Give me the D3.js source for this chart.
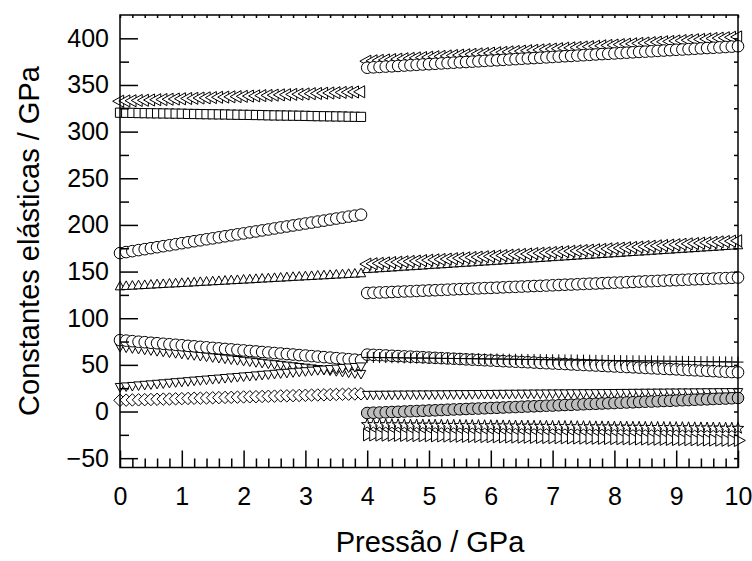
<!DOCTYPE html>
<html><head><meta charset="utf-8">
<script src="https://cdn.jsdelivr.net/npm/d3@7"></script>
<style>body{margin:0;background:#fff}svg{display:block}text{font-family:"Liberation Sans",Arial,sans-serif;fill:#000}</style>
</head><body><svg id="c" width="752" height="561"></svg>
<script>
// pressures (GPa)
const pressure1 = [0.0,0.1,0.2,0.3,0.4,0.5,0.6,0.7,0.8,0.9,1.0,1.1,1.2,1.3,1.4,1.5,1.6,1.7,1.8,1.9,2.0,2.1,2.2,2.3,2.4,2.5,2.6,2.7,2.8,2.9,3.0,3.1,3.2,3.3,3.4,3.5,3.6,3.7,3.8,3.9];
const pressure2 = [4.0,4.1,4.2,4.3,4.4,4.5,4.6,4.7,4.8,4.9,5.0,5.1,5.2,5.3,5.4,5.5,5.6,5.7,5.8,5.9,6.0,6.1,6.2,6.3,6.4,6.5,6.6,6.7,6.8,6.9,7.0,7.1,7.2,7.3,7.4,7.5,7.6,7.7,7.8,7.9,8.0,8.1,8.2,8.3,8.4,8.5,8.6,8.7,8.8,8.9,9.0,9.1,9.2,9.3,9.4,9.5,9.6,9.7,9.8,9.9,10.0];

// phase 1 series
const p1Left = [332.6,332.9,333.1,333.4,333.6,333.9,334.2,334.4,334.7,334.9,335.2,335.5,335.7,336.0,336.2,336.5,336.8,337.0,337.3,337.5,337.8,338.1,338.3,338.6,338.8,339.1,339.4,339.6,339.9,340.1,340.4,340.7,340.9,341.2,341.4,341.7,342.0,342.2,342.5,342.7];
const p1Square = [320.3,320.2,320.1,319.9,319.8,319.7,319.6,319.5,319.4,319.3,319.2,319.0,318.9,318.8,318.7,318.6,318.5,318.4,318.2,318.1,318.0,317.9,317.8,317.7,317.5,317.4,317.3,317.2,317.1,317.0,316.9,316.7,316.6,316.5,316.4,316.3,316.2,316.0,315.9,315.8];
const p1Circle = [169.8,170.9,171.9,173.0,174.0,175.1,176.1,177.2,178.2,179.3,180.4,181.4,182.5,183.5,184.6,185.6,186.7,187.8,188.8,189.9,190.9,192.0,193.0,194.1,195.1,196.2,197.3,198.3,199.4,200.4,201.5,202.5,203.6,204.6,205.7,206.8,207.8,208.9,209.9,211.0];
const p1Up = [133.5,133.9,134.2,134.6,134.9,135.3,135.7,136.0,136.4,136.7,137.1,137.4,137.8,138.2,138.5,138.9,139.2,139.6,140.0,140.3,140.7,141.0,141.4,141.8,142.1,142.5,142.8,143.2,143.6,143.9,144.3,144.6,145.0,145.3,145.7,146.1,146.4,146.8,147.1,147.5];
const p1CircleLow = [76.5,76.0,75.4,74.8,74.3,73.7,73.2,72.6,72.1,71.5,71.0,70.4,69.9,69.3,68.8,68.2,67.7,67.1,66.6,66.0,65.5,64.9,64.4,63.8,63.3,62.7,62.2,61.6,61.1,60.5,60.0,59.4,58.9,58.3,57.8,57.2,56.7,56.1,55.6,55.0];
const p1DownA = [70.0,69.3,68.5,67.8,67.0,66.3,65.5,64.8,64.0,63.3,62.6,61.8,61.1,60.3,59.6,58.8,58.1,57.4,56.6,55.9,55.1,54.4,53.6,52.9,52.1,51.4,50.7,49.9,49.2,48.4,47.7,46.9,46.2,45.4,44.7,44.0,43.2,42.5,41.7,41.0];
const p1DownB = [27.0,27.6,28.1,28.7,29.3,29.8,30.4,30.9,31.5,32.1,32.6,33.2,33.8,34.3,34.9,35.5,36.0,36.6,37.2,37.7,38.3,38.8,39.4,40.0,40.5,41.1,41.7,42.2,42.8,43.4,43.9,44.5,45.1,45.6,46.2,46.7,47.3,47.9,48.4,49.0];
const p1Diamond = [12.0,12.2,12.4,12.5,12.7,12.9,13.1,13.3,13.4,13.6,13.8,14.0,14.2,14.3,14.5,14.7,14.9,15.1,15.2,15.4,15.6,15.8,15.9,16.1,16.3,16.5,16.7,16.8,17.0,17.2,17.4,17.6,17.7,17.9,18.1,18.3,18.5,18.6,18.8,19.0];

// phase 2 series
const p2Left = [375.5,375.9,376.4,376.8,377.2,377.7,378.1,378.5,379.0,379.4,379.8,380.3,380.7,381.1,381.6,382.0,382.4,382.9,383.3,383.7,384.2,384.6,385.0,385.5,385.9,386.3,386.8,387.2,387.6,388.1,388.5,388.9,389.4,389.8,390.2,390.7,391.1,391.5,392.0,392.4,392.8,393.3,393.7,394.1,394.6,395.0,395.4,395.9,396.3,396.7,397.2,397.6,398.0,398.5,398.9,399.3,399.8,400.2,400.6,401.1,401.5];
const p2Circle = [368.5,368.9,369.3,369.7,370.0,370.4,370.8,371.2,371.6,372.0,372.3,372.7,373.1,373.5,373.9,374.3,374.6,375.0,375.4,375.8,376.2,376.5,376.9,377.3,377.7,378.1,378.5,378.8,379.2,379.6,380.0,380.4,380.8,381.1,381.5,381.9,382.3,382.7,383.1,383.4,383.8,384.2,384.6,385.0,385.4,385.7,386.1,386.5,386.9,387.3,387.7,388.0,388.4,388.8,389.2,389.6,389.9,390.3,390.7,391.1,391.5];
const p2LeftMid = [158.0,158.4,158.8,159.3,159.7,160.1,160.5,160.9,161.3,161.8,162.2,162.6,163.0,163.4,163.8,164.3,164.7,165.1,165.5,165.9,166.3,166.8,167.2,167.6,168.0,168.4,168.8,169.3,169.7,170.1,170.5,170.9,171.3,171.8,172.2,172.6,173.0,173.4,173.8,174.3,174.7,175.1,175.5,175.9,176.3,176.8,177.2,177.6,178.0,178.4,178.8,179.3,179.7,180.1,180.5,180.9,181.3,181.8,182.2,182.6,183.0];
const p2Up = [152.0,152.4,152.9,153.3,153.7,154.1,154.6,155.0,155.4,155.8,156.3,156.7,157.1,157.5,158.0,158.4,158.8,159.2,159.7,160.1,160.5,160.9,161.4,161.8,162.2,162.6,163.1,163.5,163.9,164.3,164.8,165.2,165.6,166.0,166.5,166.9,167.3,167.7,168.2,168.6,169.0,169.4,169.9,170.3,170.7,171.1,171.6,172.0,172.4,172.8,173.3,173.7,174.1,174.5,175.0,175.4,175.8,176.2,176.7,177.1,177.5];
const p2CircleMid = [127.0,127.3,127.6,127.8,128.1,128.4,128.7,128.9,129.2,129.5,129.8,130.0,130.3,130.6,130.9,131.2,131.4,131.7,132.0,132.3,132.5,132.8,133.1,133.4,133.6,133.9,134.2,134.5,134.7,135.0,135.3,135.6,135.9,136.1,136.4,136.7,137.0,137.2,137.5,137.8,138.1,138.3,138.6,138.9,139.2,139.5,139.7,140.0,140.3,140.6,140.8,141.1,141.4,141.7,141.9,142.2,142.5,142.8,143.0,143.3,143.6];
const p2Plus = [58.0,57.9,57.8,57.8,57.7,57.6,57.5,57.4,57.3,57.3,57.2,57.1,57.0,56.9,56.8,56.8,56.7,56.6,56.5,56.4,56.3,56.3,56.2,56.1,56.0,55.9,55.8,55.8,55.7,55.6,55.5,55.4,55.3,55.3,55.2,55.1,55.0,54.9,54.8,54.8,54.7,54.6,54.5,54.4,54.3,54.3,54.2,54.1,54.0,53.9,53.8,53.8,53.7,53.6,53.5,53.4,53.3,53.3,53.2,53.1,53.0];
const p2CircleLow = [61.0,60.7,60.4,60.1,59.7,59.4,59.1,58.8,58.5,58.2,57.8,57.5,57.2,56.9,56.6,56.3,55.9,55.6,55.3,55.0,54.7,54.4,54.0,53.7,53.4,53.1,52.8,52.5,52.1,51.8,51.5,51.2,50.9,50.5,50.2,49.9,49.6,49.3,49.0,48.6,48.3,48.0,47.7,47.4,47.1,46.7,46.4,46.1,45.8,45.5,45.2,44.8,44.5,44.2,43.9,43.6,43.3,42.9,42.6,42.3,42.0];
const p2Down = [18.5,18.6,18.6,18.7,18.7,18.8,18.8,18.9,18.9,19.0,19.0,19.1,19.1,19.2,19.2,19.3,19.3,19.4,19.4,19.5,19.5,19.6,19.6,19.7,19.7,19.8,19.8,19.9,19.9,20.0,20.0,20.1,20.1,20.2,20.2,20.3,20.3,20.4,20.4,20.5,20.5,20.6,20.6,20.7,20.7,20.8,20.8,20.9,20.9,21.0,21.0,21.1,21.1,21.2,21.2,21.3,21.3,21.4,21.4,21.5,21.5];
const p2GrayCircle = [-1.6,-1.3,-1.1,-0.8,-0.5,-0.3,0.0,0.3,0.5,0.8,1.1,1.3,1.6,1.9,2.2,2.4,2.7,3.0,3.2,3.5,3.8,4.0,4.3,4.6,4.8,5.1,5.4,5.6,5.9,6.2,6.4,6.7,7.0,7.2,7.5,7.8,8.1,8.3,8.6,8.9,9.1,9.4,9.7,9.9,10.2,10.5,10.7,11.0,11.3,11.5,11.8,12.1,12.3,12.6,12.9,13.1,13.4,13.7,13.9,14.2,14.5];
const p2Star = [-14.0,-14.1,-14.1,-14.2,-14.3,-14.3,-14.4,-14.5,-14.5,-14.6,-14.7,-14.7,-14.8,-14.9,-14.9,-15.0,-15.1,-15.1,-15.2,-15.3,-15.3,-15.4,-15.5,-15.5,-15.6,-15.7,-15.7,-15.8,-15.9,-15.9,-16.0,-16.1,-16.1,-16.2,-16.3,-16.3,-16.4,-16.5,-16.5,-16.6,-16.7,-16.7,-16.8,-16.9,-16.9,-17.0,-17.1,-17.1,-17.2,-17.3,-17.3,-17.4,-17.5,-17.5,-17.6,-17.7,-17.7,-17.8,-17.9,-17.9,-18.0];
const p2Right = [-25.0,-25.1,-25.2,-25.3,-25.4,-25.5,-25.6,-25.7,-25.8,-25.9,-26.0,-26.1,-26.2,-26.3,-26.4,-26.5,-26.6,-26.7,-26.8,-26.9,-27.0,-27.1,-27.2,-27.3,-27.4,-27.5,-27.6,-27.7,-27.8,-27.9,-28.0,-28.1,-28.2,-28.3,-28.4,-28.5,-28.6,-28.7,-28.8,-28.9,-29.0,-29.1,-29.2,-29.3,-29.4,-29.5,-29.6,-29.7,-29.8,-29.9,-30.0,-30.1,-30.2,-30.3,-30.4,-30.5,-30.6,-30.7,-30.8,-30.9,-31.0];

// axis ticks
const xMajorTicks = [0,1,2,3,4,5,6,7,8,9,10];
const yMajorTicks = [-50,0,50,100,150,200,250,300,350,400];
const yMinorTicks = [-25,25,75,125,175,225,275,325,375];
const xLabel = "Pressão / GPa";
const yLabel = "Constantes elásticas / GPa";

const svg = d3.select("#c");
const L = 120, R = 738, T = 15, B = 467.5;
const x = d3.scaleLinear().domain([0, 10]).range([L, R]);
const y = d3.scaleLinear().domain([-60, 425]).range([B, T]);

// custom symbol shapes (size = half extent in px)
function tri(dir){
  return {draw(ctx, s){
    const h = s, w = s * 1.1;
    if (dir === "up"){ ctx.moveTo(0,-h*4/3); ctx.lineTo(w,h*2/3); ctx.lineTo(-w,h*2/3); }
    else if (dir === "down"){ ctx.moveTo(0,h*4/3); ctx.lineTo(w,-h*2/3); ctx.lineTo(-w,-h*2/3); }
    else if (dir === "left"){ ctx.moveTo(-h*4/3,0); ctx.lineTo(h*2/3,-w); ctx.lineTo(h*2/3,w); }
    else { ctx.moveTo(h*4/3,0); ctx.lineTo(-h*2/3,-w); ctx.lineTo(-h*2/3,w); }
    ctx.closePath();
  }};
}
const shapes = {
  circle: {draw(ctx,s){ ctx.moveTo(s,0); ctx.arc(0,0,s,0,2*Math.PI); ctx.closePath(); }},
  square: {draw(ctx,s){ ctx.rect(-s,-s,2*s,2*s); }},
  diamond: {draw(ctx,s){ const k=s*1.3; ctx.moveTo(0,-k); ctx.lineTo(k,0); ctx.lineTo(0,k); ctx.lineTo(-k,0); ctx.closePath(); }},
  plus: {draw(ctx,s){ ctx.moveTo(-s,0); ctx.lineTo(s,0); ctx.moveTo(0,-s); ctx.lineTo(0,s); }},
  star: {draw(ctx,s){ for(let i=0;i<10;i++){ const r = i%2? s*0.45 : s*1.1; const a = -Math.PI/2 + i*Math.PI/5; const px=r*Math.cos(a), py=r*Math.sin(a); if(i===0) ctx.moveTo(px,py); else ctx.lineTo(px,py);} ctx.closePath(); }},
  up: tri("up"), down: tri("down"), left: tri("left"), right: tri("right")
};

const series = [
  {xs: pressure1, ys: p1Left, shape: "left", size: 5.5},
  {xs: pressure1, ys: p1Square, shape: "square", size: 4.6},
  {xs: pressure1, ys: p1Circle, shape: "circle", size: 5.8},
  {xs: pressure1, ys: p1Up, shape: "up", size: 4.3},
  {xs: pressure1, ys: p1DownA, shape: "down", size: 4.3},
  {xs: pressure1, ys: p1CircleLow, shape: "circle", size: 5.8},
  {xs: pressure1, ys: p1DownB, shape: "down", size: 4.3},
  {xs: pressure1, ys: p1Diamond, shape: "diamond", size: 4.8},
  {xs: pressure2, ys: p2Left, shape: "left", size: 5.5},
  {xs: pressure2, ys: p2Circle, shape: "circle", size: 5.8},
  {xs: pressure2, ys: p2Up, shape: "up", size: 4.3},
  {xs: pressure2, ys: p2LeftMid, shape: "left", size: 5.5},
  {xs: pressure2, ys: p2CircleMid, shape: "circle", size: 5.8},
  {xs: pressure2, ys: p2CircleLow, shape: "circle", size: 5.8},
  {xs: pressure2, ys: p2Plus, shape: "plus", size: 5.5},
  {xs: pressure2, ys: p2Down, shape: "down", size: 4.3},
  {xs: pressure2, ys: p2GrayCircle, shape: "circle", size: 5.8, fill: "#bdbdbd"},
  {xs: pressure2, ys: p2Star, shape: "star", size: 5.5},
  {xs: pressure2, ys: p2Right, shape: "right", size: 5.5}
];

const plot = svg.append("g");
series.forEach(sr => {
  const sym = d3.symbol().type(shapes[sr.shape]).size(sr.size);
  plot.append("g").selectAll("path").data(sr.ys).join("path")
    .attr("transform", (v,i) => `translate(${x(sr.xs[i])},${y(v)})`)
    .attr("d", sym())
    .attr("fill", sr.shape === "plus" ? "none" : (sr.fill || "#fff"))
    .attr("stroke", "#000").attr("stroke-width", 1);
});

// axes
const tickStyle = g => { g.select(".domain").remove(); g.selectAll("line").attr("stroke","#000").attr("stroke-width",1.5); };
const xMinor = d3.range(0, 50).map(i => i/5).filter(v => Math.abs(v - Math.round(v)) > 1e-6);
const xAll = d3.range(0, 51).map(i => i/5);

svg.append("g").attr("transform",`translate(0,${B})`)
  .call(d3.axisBottom(x).tickValues(xMinor).tickSize(-9).tickFormat("")).call(tickStyle);
svg.append("g").attr("transform",`translate(0,${B})`)
  .call(d3.axisBottom(x).tickValues(xMajorTicks).tickSize(-17).tickPadding(20).tickFormat(d3.format("d")))
  .call(tickStyle)
  .call(g => g.selectAll("text").attr("font-size", 25).attr("font-family", '"Liberation Sans", Arial, sans-serif'));
svg.append("g").attr("transform",`translate(0,${T})`)
  .call(d3.axisTop(x).tickValues(xAll).tickSize(-3).tickFormat("")).call(tickStyle);

svg.append("g").attr("transform",`translate(${L},0)`)
  .call(d3.axisLeft(y).tickValues(yMinorTicks).tickSize(-9).tickFormat("")).call(tickStyle);
svg.append("g").attr("transform",`translate(${L},0)`)
  .call(d3.axisLeft(y).tickValues(yMajorTicks).tickSize(-18).tickPadding(11).tickFormat(d3.format("d")))
  .call(tickStyle)
  .call(g => g.selectAll("text").attr("font-size", 25).attr("font-family", '"Liberation Sans", Arial, sans-serif'));
svg.append("g").attr("transform",`translate(${R},0)`)
  .call(d3.axisRight(y).tickValues(yMajorTicks.concat(yMinorTicks)).tickSize(-4).tickFormat("")).call(tickStyle);

svg.append("rect").attr("x",L).attr("y",T).attr("width",R-L).attr("height",B-T)
  .attr("fill","none").attr("stroke","#000").attr("stroke-width",1.5);

svg.append("text").attr("x", 430).attr("y", 552).attr("text-anchor","middle").attr("font-size", 29).text(xLabel);
svg.append("text").attr("transform","translate(39,241) rotate(-90)").attr("text-anchor","middle").attr("font-size", 29).text(yLabel);
</script></body></html>
